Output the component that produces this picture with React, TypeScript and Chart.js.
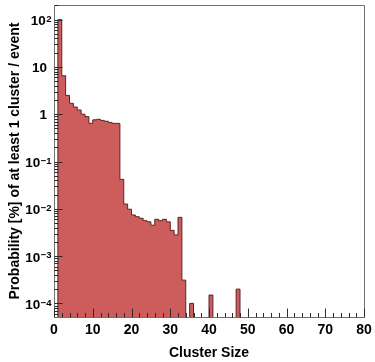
import React, { useEffect, useRef } from "react";
import { Chart, registerables } from "chart.js";

Chart.register(...registerables);

// Probability [%] per cluster size bin (bin k covers [k, k+1)), sizes 0..79
const probability = [
  0, 100, 6.5, 2.5, 1.7, 1.42, 1.23, 1.0, 0.89, 0.64,
  0.76, 0.78, 0.74, 0.71, 0.67, 0.64, 0.64, 0.042, 0.0126, 0.0098,
  0.0074, 0.0068, 0.0063, 0.0056, 0.0053, 0.0045, 0.006, 0.0056, 0.006, 0.0053,
  0.0035, 0.0028, 0.0066, 0.00031, 0, 0.0001, 0, 0, 0, 0,
  0.00015, 0, 0, 0, 0, 0, 0, 0.0002, 0, 0,
  0, 0, 0, 0, 0, 0, 0, 0, 0, 0,
  0, 0, 0, 0, 0, 0, 0, 0, 0, 0,
  0, 0, 0, 0, 0, 0, 0, 0, 0, 0,
];

const xTickValues = [0, 10, 20, 30, 40, 50, 60, 70, 80];
const xTickLabels = ["0", "10", "20", "30", "40", "50", "60", "70", "80"];
const yTickValues = [100, 10, 1, 0.1, 0.01, 0.001, 0.0001];
const yTickLabels = ["10^2", "10", "1", "10^-1", "10^-2", "10^-3", "10^-4"];

const X_MIN = 0;
const X_MAX = 80;
const X_MINOR_STEP = 2;
const Y_MIN = 5.15e-5;
const Y_MAX = 204;
const EMPTY = 1e-7; // stands for an empty bin (below the visible range)

const xTitle = "Cluster Size";
const yTitle = "Probability [%] of at least 1 cluster / event";

const FONT = '"Liberation Sans", Arial, Helvetica, sans-serif';

const rootAxesPlugin = {
  id: "rootAxes",
  afterDatasetsDraw(chart: any) {
    const { ctx, chartArea: a, scales } = chart;
    const x = scales.x;
    const y = scales.y;
    ctx.save();
    // frame
    ctx.strokeStyle = "#707070";
    ctx.lineWidth = 1;
    const L = Math.round(a.left) + 0.5;
    const T = Math.round(a.top) + 0.5;
    const R = Math.round(a.right) + 0.5;
    const B = Math.round(a.bottom) + 0.5;
    ctx.beginPath();
    ctx.moveTo(L, B);
    ctx.lineTo(L, T);
    ctx.lineTo(R, T);
    ctx.lineTo(R, B);
    ctx.lineTo(L, B);
    ctx.stroke();

    // ticks
    ctx.strokeStyle = "#2a2a2a";
    ctx.beginPath();
    for (let v = X_MIN; v <= X_MAX; v += X_MINOR_STEP) {
      const px = Math.round(x.getPixelForValue(v)) + 0.5;
      const len = xTickValues.includes(v) ? 9 : 4.5;
      ctx.moveTo(px, B);
      ctx.lineTo(px, B - len);
    }
    for (let d = -5; d <= 2; d++) {
      for (let m = 1; m <= 9; m++) {
        const v = m * Math.pow(10, d);
        if (v < Y_MIN || v > Y_MAX) continue;
        const py = Math.round(y.getPixelForValue(v)) + 0.5;
        const len = m === 1 ? 8 : 4;
        ctx.moveTo(L, py);
        ctx.lineTo(L + len, py);
      }
    }
    ctx.stroke();
    ctx.restore();
  },
  afterDraw(chart: any) {
    const { ctx, chartArea: a, scales } = chart;
    const x = scales.x;
    const y = scales.y;
    ctx.save();
    ctx.fillStyle = "#000";
    // x tick labels
    ctx.font = `bold 14px ${FONT}`;
    ctx.textAlign = "center";
    ctx.textBaseline = "alphabetic";
    xTickValues.forEach((v, i) => {
      ctx.fillText(xTickLabels[i], x.getPixelForValue(v), 333.5);
    });
    // y tick labels
    yTickValues.forEach((v, i) => {
      const py = y.getPixelForValue(v);
      const [base, exp] = yTickLabels[i].split("^");
      ctx.textAlign = "left";
      if (exp === undefined) {
        ctx.font = `bold 13.5px ${FONT}`;
        const w = ctx.measureText(base).width;
        ctx.fillText(base, 47 - w, py + 5);
      } else {
        const expText = exp.replace("-", "\u2212");
        ctx.font = `bold 13.5px ${FONT}`;
        const wb = ctx.measureText(base).width;
        ctx.font = `bold 9.5px ${FONT}`;
        const we = ctx.measureText(expText).width;
        const right = 51.5;
        const start = right - wb - we - 0.5;
        ctx.font = `bold 13.5px ${FONT}`;
        ctx.fillText(base, start, py + 5.5);
        ctx.font = `bold 9.5px ${FONT}`;
        ctx.fillText(expText, start + wb + 0.5, py + 2.4);
      }
    });
    // titles
    ctx.font = `bold 14px ${FONT}`;
    ctx.textAlign = "center";
    ctx.fillText(xTitle, 209, 356.5);
    ctx.translate(18.8, (a.top + a.bottom) / 2);
    ctx.rotate(-Math.PI / 2);
    ctx.fillText(yTitle, 0, 0);
    ctx.restore();
  },
};

export default function App() {
  const canvasRef = useRef<HTMLCanvasElement | null>(null);

  useEffect(() => {
    const canvas = canvasRef.current;
    if (!canvas) return;
    const points = probability.map((v, i) => ({ x: i, y: v > 0 ? v : EMPTY }));
    points.push({ x: X_MAX, y: EMPTY });

    const chart = new Chart(canvas, {
      type: "line",
      data: {
        datasets: [
          {
            data: points,
            stepped: "before",
            fill: "start",
            backgroundColor: "#cd5c5c",
            borderColor: "#5a2424",
            borderWidth: 1,
            pointRadius: 0,
            tension: 0,
          },
        ],
      },
      options: {
        responsive: false,
        animation: false,
        devicePixelRatio: 1,
        layout: { padding: { left: 54, top: 5, right: 11, bottom: 45 } },
        plugins: { legend: { display: false }, tooltip: { enabled: false } },
        scales: {
          x: { type: "linear", min: X_MIN, max: X_MAX, display: false },
          y: { type: "logarithmic", min: Y_MIN, max: Y_MAX, display: false },
        },
      },
      plugins: [rootAxesPlugin],
    } as any);
    return () => chart.destroy();
  }, []);

  return (
    <div style={{ position: "fixed", left: 0, top: 0, width: 375, height: 362, background: "#fff" }}>
      <canvas ref={canvasRef} width={375} height={362} />
    </div>
  );
}
